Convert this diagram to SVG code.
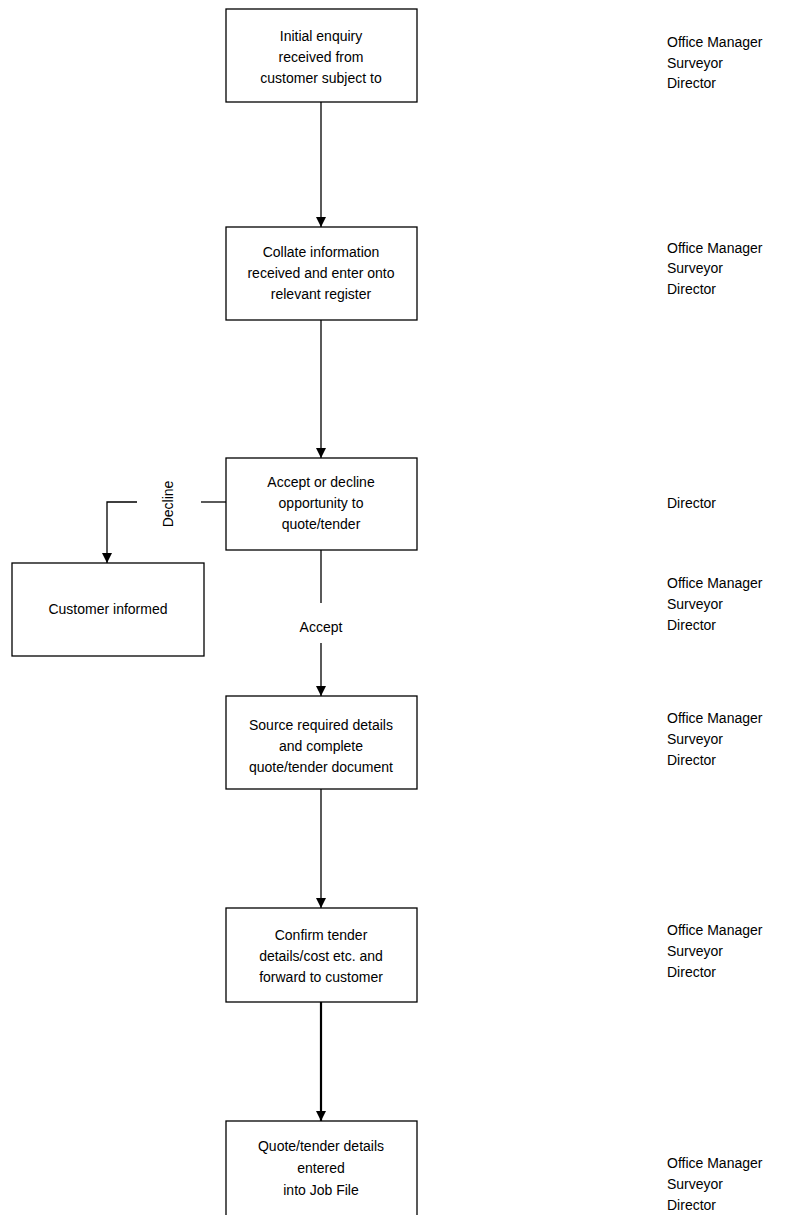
<svg xmlns="http://www.w3.org/2000/svg" width="794" height="1215" viewBox="0 0 794 1215">
<style>
.box{fill:#fff;stroke:#000;stroke-width:1.3}
.t{font-family:"Liberation Sans",Arial,sans-serif;font-size:14px;fill:#000}
.c{text-anchor:middle}
.ln{stroke:#000;stroke-width:1.3;fill:none}
</style>
<defs>
<marker id="ah" markerWidth="10" markerHeight="10" refX="10" refY="5" orient="auto" markerUnits="userSpaceOnUse">
<path d="M0,0 L10,5 L0,10 Z" fill="#000"/>
</marker>
</defs>
<rect width="794" height="1215" fill="#fff"/>
<g id="connectors">
<line class="ln" x1="321" y1="102" x2="321" y2="227" marker-end="url(#ah)"/>
<line class="ln" x1="321" y1="320" x2="321" y2="458" marker-end="url(#ah)"/>
<polyline class="ln" points="226,502 201,502"/>
<polyline class="ln" points="137,502 107,502 107,563" marker-end="url(#ah)"/>
<text class="t c" transform="translate(173,504) rotate(-90)">Decline</text>
<line class="ln" x1="321" y1="550" x2="321" y2="603"/>
<line class="ln" x1="321" y1="643" x2="321" y2="696" marker-end="url(#ah)"/>
<text class="t c" x="321" y="632">Accept</text>
<line class="ln" x1="321" y1="789" x2="321" y2="908" marker-end="url(#ah)"/>
<line x1="321" y1="1002" x2="321" y2="1121" stroke="#000" stroke-width="2.2" marker-end="url(#ah)"/>
</g>
<g id="n1">
<rect class="box" x="226" y="9" width="191" height="93"/>
<text class="t c" x="321"><tspan x="321" y="41">Initial enquiry</tspan><tspan x="321" y="62">received from</tspan><tspan x="321" y="83">customer subject to</tspan></text>
</g>
<g id="n2">
<rect class="box" x="226" y="227" width="191" height="93"/>
<text class="t c"><tspan x="321" y="257">Collate information</tspan><tspan x="321" y="278">received and enter onto</tspan><tspan x="321" y="299">relevant register</tspan></text>
</g>
<g id="n3">
<rect class="box" x="226" y="458" width="191" height="92"/>
<text class="t c"><tspan x="321" y="487">Accept or decline</tspan><tspan x="321" y="508">opportunity to</tspan><tspan x="321" y="529">quote/tender</tspan></text>
</g>
<g id="n4">
<rect class="box" x="12" y="563" width="192" height="93"/>
<text class="t c" x="108" y="614">Customer informed</text>
</g>
<g id="n5">
<rect class="box" x="226" y="696" width="191" height="93"/>
<text class="t c"><tspan x="321" y="730">Source required details</tspan><tspan x="321" y="751">and complete</tspan><tspan x="321" y="772">quote/tender document</tspan></text>
</g>
<g id="n6">
<rect class="box" x="226" y="908" width="191" height="94"/>
<text class="t c"><tspan x="321" y="940">Confirm tender</tspan><tspan x="321" y="961">details/cost etc. and</tspan><tspan x="321" y="982">forward to customer</tspan></text>
</g>
<g id="n7">
<rect class="box" x="226" y="1121" width="191" height="110"/>
<text class="t c"><tspan x="321" y="1151">Quote/tender details</tspan><tspan x="321" y="1173">entered</tspan><tspan x="321" y="1195">into Job File</tspan></text>
</g>
<g id="roles">
<text class="t"><tspan x="667" y="47">Office Manager</tspan><tspan x="667" y="68">Surveyor</tspan><tspan x="667" y="88">Director</tspan></text>
<text class="t"><tspan x="667" y="253">Office Manager</tspan><tspan x="667" y="273">Surveyor</tspan><tspan x="667" y="294">Director</tspan></text>
<text class="t" x="667" y="508">Director</text>
<text class="t"><tspan x="667" y="588">Office Manager</tspan><tspan x="667" y="609">Surveyor</tspan><tspan x="667" y="630">Director</tspan></text>
<text class="t"><tspan x="667" y="723">Office Manager</tspan><tspan x="667" y="744">Surveyor</tspan><tspan x="667" y="765">Director</tspan></text>
<text class="t"><tspan x="667" y="935">Office Manager</tspan><tspan x="667" y="956">Surveyor</tspan><tspan x="667" y="977">Director</tspan></text>
<text class="t"><tspan x="667" y="1168">Office Manager</tspan><tspan x="667" y="1189">Surveyor</tspan><tspan x="667" y="1210">Director</tspan></text>
</g>
</svg>
